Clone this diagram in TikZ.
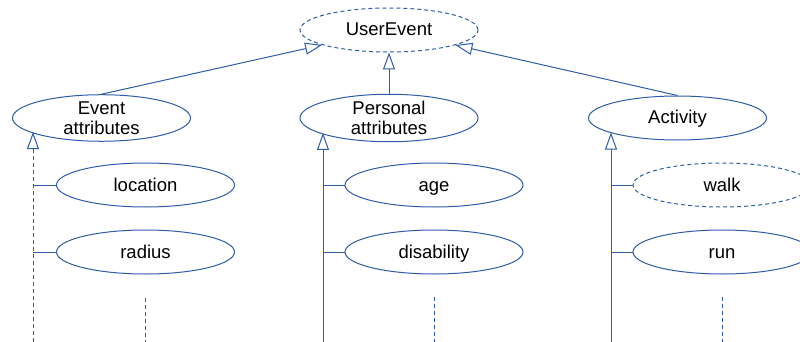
\documentclass[tikz,border=0pt]{standalone}
\usepackage{fontspec}
\setmainfont{Liberation Sans}
\usetikzlibrary{shapes.geometric,arrows.meta}
\definecolor{umlblue}{RGB}{46,92,168}
\tikzset{
  concept/.style={ellipse, draw=umlblue, line width=1pt, minimum width=178pt,
    minimum height=44pt, inner sep=0pt, align=center,
    font=\fontsize{18.5}{20}\selectfont},
  oneline/.style={text height=13.5pt, text depth=1.5pt},
  abstract/.style={concept, dash pattern=on 4pt off 3pt},
  link/.style={draw=umlblue, line width=1pt},
  gen/.style={link, -{Triangle[open, length=17pt, width=12pt]}},
  dgen/.style={gen, dash pattern=on 4pt off 3pt},
  part/.style={link},
  more/.style={link, dash pattern=on 4pt off 3pt}
}
\begin{document}
\begin{tikzpicture}[x=1pt, y=-1pt]
  \useasboundingbox (0,0) rectangle (800,342);

  % root and its three specialisations
  \node[abstract, oneline] (ue) at (389,30) {UserEvent};
  \node[concept] (ea) at (101.5,118) {Event\\attributes};
  \node[concept] (pa) at (389,118) {Personal\\attributes};
  \node[concept, oneline] (ac) at (677.5,118) {Activity};

  % members of each group
  \node[concept, oneline] (loc) at (145.5,185) {location};
  \node[concept, oneline] (rad) at (145.5,252) {radius};
  \node[concept, oneline] (age) at (434,185) {age};
  \node[concept, oneline] (dis) at (434,252) {disability};
  \node[abstract, oneline] (walk) at (722,185) {walk};
  \node[concept, oneline] (run) at (722,252) {run};

  % stem bottoms and continuation marks
  \coordinate (eaend) at (33,342);
  \coordinate (paend) at (323,342);
  \coordinate (acend) at (611,342);
  \coordinate (m1a) at (145.5,298); \coordinate (m1b) at (145.5,342);
  \coordinate (m2a) at (434,297);   \coordinate (m2b) at (434,342);
  \coordinate (m3a) at (722,297);   \coordinate (m3b) at (722,342);

  % generalisation arrows to the root
  \draw[gen] (ea.north) -- (ue);
  \draw[gen] (pa.north) -- (ue);
  \draw[gen] (ac.north) -- (ue);

  % vertical stems with arrows up to each group
  \draw[dgen] (eaend) -- (eaend |- ea.191.5);
  \draw[gen] (paend) -- (paend |- pa.192.6);
  \draw[gen] (acend) -- (acend |- ac.192.5);

  % branches from the stems to the members
  \draw[part] (loc.west) -- (loc.west -| eaend);
  \draw[part] (rad.west) -- (rad.west -| eaend);
  \draw[part] (age.west) -- (age.west -| paend);
  \draw[part] (dis.west) -- (dis.west -| paend);
  \draw[part] (walk.west) -- (walk.west -| acend);
  \draw[part] (run.west) -- (run.west -| acend);

  % continuation marks below the lists
  \draw[more] (m1a) -- (m1b);
  \draw[more] (m2a) -- (m2b);
  \draw[more] (m3a) -- (m3b);
\end{tikzpicture}
\end{document}
